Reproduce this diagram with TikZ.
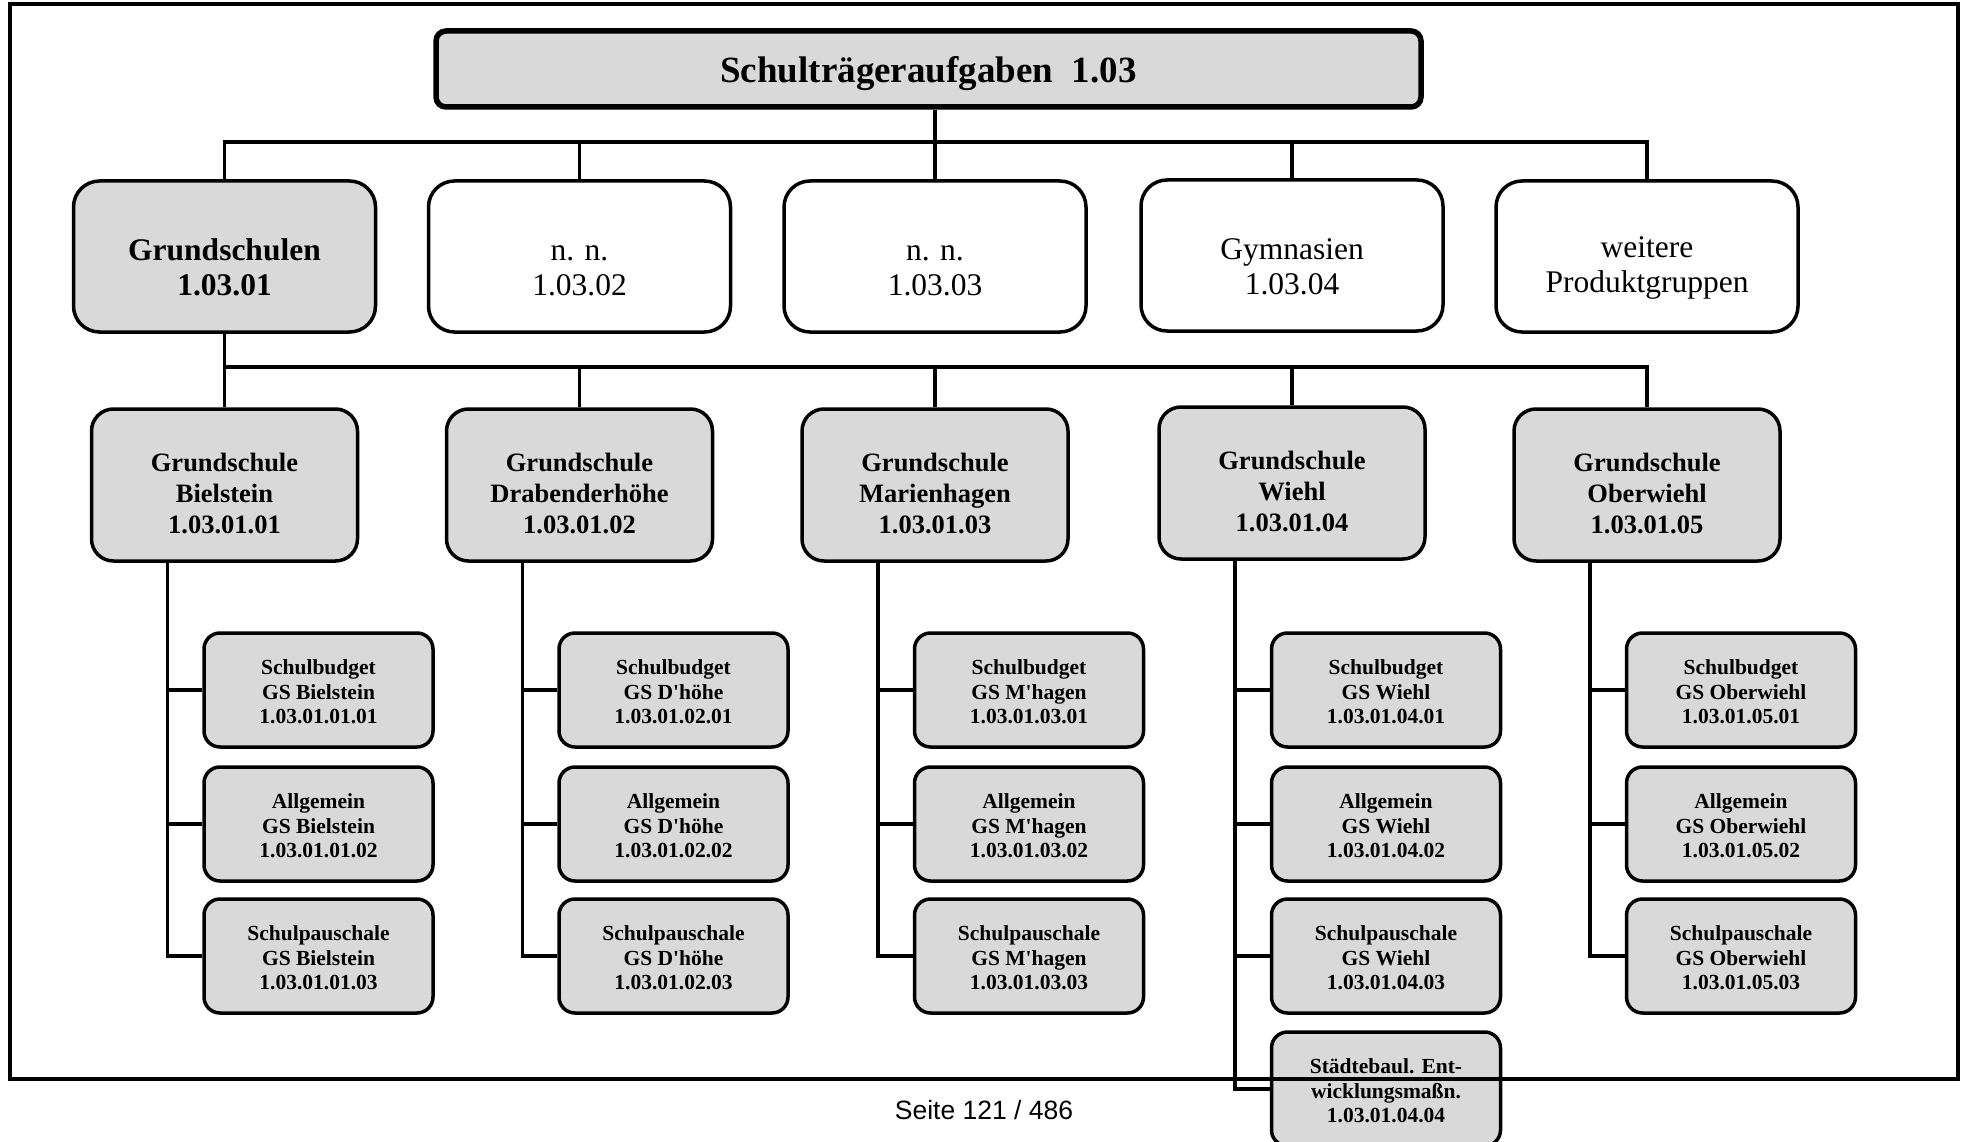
\documentclass[tikz,border=0pt]{standalone}
\usepackage{fontspec}
\setmainfont{Liberation Serif}[Ligatures=TeXOff]
\newfontfamily\footfont{Liberation Sans}
\definecolor{boxgray}{HTML}{D9D9D9}
\newcommand\lift[1]{\rule{0pt}{#1}}
\begin{document}
\begin{tikzpicture}[x=1pt,y=-1pt,
  box/.style={draw, line width=3.5pt, align=center, inner sep=0pt},
  titlebox/.style={box, fill=boxgray, line width=5.5pt, rounded corners=10pt, minimum width=985pt, minimum height=76pt, font=\fontsize{37}{42}\selectfont\bfseries},
  lone/.style={box, fill=white, rounded corners=26pt, minimum width=302pt, minimum height=151pt, font=\fontsize{31.5}{35}\selectfont},
  lonegray/.style={lone, fill=boxgray, font=\fontsize{31.5}{35}\selectfont\bfseries},
  ltwo/.style={box, fill=boxgray, rounded corners=22pt, minimum width=266pt, minimum height=152pt, font=\fontsize{26.5}{31}\selectfont\bfseries},
  lthree/.style={box, fill=boxgray, rounded corners=16pt, minimum width=229pt, minimum height=114pt, font=\fontsize{21.5}{24.5}\selectfont\bfseries},
  conn/.style={line width=3.5pt},
]
\useasboundingbox (0,0) rectangle (1966,1142);

% title
\node[titlebox] (title) at (928.5,69) {\lift{35pt}Schulträgeraufgaben~~1.03};

% level 1
\node[lonegray] (g1) at (224.5,256.5) {\lift{44pt}Grundschulen\\1.03.01};
\node[lone] (g2) at (579.5,256.5) {\lift{44pt}n. n.\\1.03.02};
\node[lone] (g3) at (935,256.5) {\lift{44pt}n. n.\\1.03.03};
\node[lone] (g4) at (1292,255.5) {\lift{44pt}Gymnasien\\1.03.04};
\node[lone] (g5) at (1647,256.5) {\lift{44pt}weitere\\Produktgruppen};

\draw[conn] (title.south -| g3.north) -- (g3.north);
\draw[conn] (g1.north) -- ++(0,-37) -| (g5.north);
\draw[conn] (g2.north) -- ++(0,-37);
\draw[conn] (g4.north) -- ++(0,-37);

% level 2
\node[ltwo] (m1) at (224.5,485) {\lift{35pt}Grundschule\\Bielstein\\1.03.01.01};
\node[ltwo] (m2) at (579.5,485) {\lift{35pt}Grundschule\\Drabenderhöhe\\1.03.01.02};
\node[ltwo] (m3) at (935,485) {\lift{35pt}Grundschule\\Marienhagen\\1.03.01.03};
\node[ltwo] (m4) at (1292,483) {\lift{35pt}Grundschule\\Wiehl\\1.03.01.04};
\node[ltwo] (m5) at (1647,485) {\lift{35pt}Grundschule\\Oberwiehl\\1.03.01.05};

\coordinate (bus) at (0,367);
\draw[conn] (g1.south) -- (g1.south |- bus) -| (m5.north);
\draw[conn] (m1.north) -- (m1.north |- bus);
\draw[conn] (m2.north) -- (m2.north |- bus);
\draw[conn] (m3.north) -- (m3.north |- bus);
\draw[conn] (m4.north) -- (m4.north |- bus);

% level 3
\foreach \i/\cx/\ab in {1/224.5/Bielstein, 2/579.5/D'höhe, 3/935/M'hagen, 4/1292/Wiehl, 5/1647/Oberwiehl} {
  \node[lthree] (s\i a) at (\cx+94,690) {\lift{19pt}Schulbudget\\GS \ab\\1.03.01.0\i.01};
  \node[lthree] (s\i b) at (\cx+94,824) {\lift{19pt}Allgemein\\GS \ab\\1.03.01.0\i.02};
  \node[lthree] (s\i c) at (\cx+94,956) {\lift{19pt}Schulpauschale\\GS \ab\\1.03.01.0\i.03};
  \coordinate (t\i) at (\cx-57,0);
  \draw[conn] (m\i.south -| t\i) |- (s\i c.west);
  \draw[conn] (s\i a.west -| t\i) -- (s\i a.west);
  \draw[conn] (s\i b.west -| t\i) -- (s\i b.west);
}
\node[lthree] (s4d) at (1386,1089) {\lift{19pt}Städtebaul. Ent-\\wicklungsmaßn.\\1.03.01.04.04};
\draw[conn] (s4c.west -| t4) |- (s4d.west);

% page frame
\draw[line width=4pt] (10,4) rectangle (1958,1079);

% footer
\node[font=\footfont\fontsize{26.5}{30}\selectfont, inner sep=0pt] (foot) at (984,1110) {Seite 121 / 486};
\end{tikzpicture}
\end{document}
